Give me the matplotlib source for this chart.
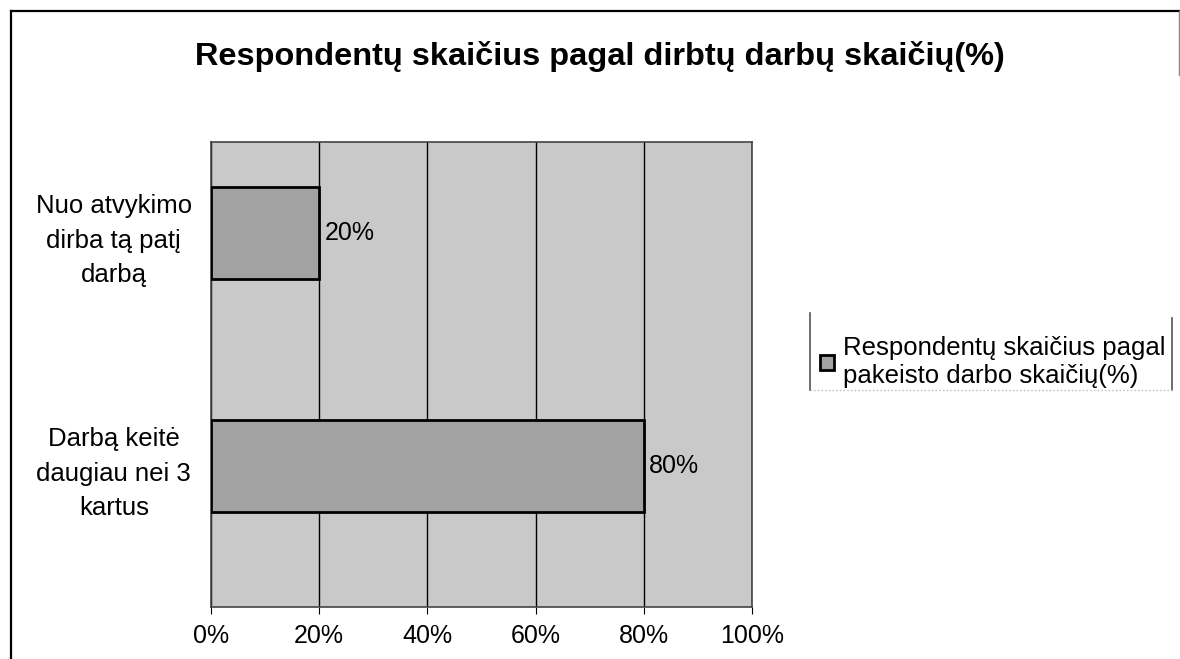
import matplotlib.pyplot as plt
from matplotlib.lines import Line2D

plt.rcParams['font.family'] = ['Liberation Sans', 'DejaVu Sans']

# duomenys
categories = ['Darbą keitė\ndaugiau nei 3\nkartus', 'Nuo atvykimo\ndirba tą patį\ndarbą']
values = [80, 20]
value_labels = ['80%', '20%']
x_ticks = [0, 20, 40, 60, 80, 100]
x_tick_labels = ['0%', '20%', '40%', '60%', '80%', '100%']
series_name = 'Respondentų skaičius pagal\npakeisto darbo skaičių(%)'
title = 'Respondentų skaičius pagal dirbtų darbų skaičių(%)'

W, H = 1180, 659


def fx(px):
    return px / W


def fy(py):
    return 1 - py / H


fig = plt.figure(figsize=(11.8, 6.59), dpi=100)
fig.patch.set_facecolor('white')

# outer chart frame (scanned, bottom is cut off)
fig.lines.append(Line2D([fx(11), fx(11)], [0, fy(11)], transform=fig.transFigure,
                        color='black', linewidth=1.6))
fig.lines.append(Line2D([fx(11), fx(1179)], [fy(11), fy(11)], transform=fig.transFigure,
                        color='black', linewidth=1.6))
fig.lines.append(Line2D([fx(1179), fx(1179)], [fy(11), fy(75)], transform=fig.transFigure,
                        color='#888888', linewidth=1))

ax = fig.add_axes([fx(211), fy(607), 541 / W, 465 / H])
ax.set_facecolor('#c9c9c9')

pos = list(range(len(categories)))
bars = ax.barh(pos, values, height=0.395, color='#a2a2a2', edgecolor='black',
               linewidth=2, label=series_name, zorder=3)

for b, lab in zip(bars, value_labels):
    ax.text(b.get_width() + 1, b.get_y() + b.get_height() / 2, lab,
            va='center', ha='left', fontsize=18, zorder=4)

ax.set_xlim(0, 100)
ax.set_ylim(-0.605, 1.39)
ax.set_xticks(x_ticks)
ax.set_xticklabels(x_tick_labels, fontsize=18)
ax.set_yticks(pos)
ax.set_yticklabels(categories, fontsize=18.5, ha='center', linespacing=1.55)
ax.tick_params(axis='y', length=0, pad=70)
ax.tick_params(axis='x', length=5, pad=7, direction='out')
ax.xaxis.grid(True, color='black', linewidth=1)
ax.set_axisbelow(True)
for s in ax.spines.values():
    s.set_color('#444444')
    s.set_linewidth(1.2)

fig.text(fx(600), fy(57), title, ha='center', va='center',
         fontsize=23.4, fontweight='bold')

# legenda
leg = fig.legend(handles=[bars], labels=[series_name], loc='center left',
                 bbox_to_anchor=(fx(820), fy(362)), fontsize=18.5,
                 frameon=False, handlelength=0.55, handleheight=0.55,
                 handletextpad=0.35, borderpad=0.0, borderaxespad=0.0,
                 labelspacing=0.2)
for t in leg.get_texts():
    t.set_linespacing(1.25)
fig.lines.append(Line2D([fx(810), fx(810)], [fy(313), fy(390)], transform=fig.transFigure,
                        color='#555555', linewidth=1.2))
fig.lines.append(Line2D([fx(1172), fx(1172)], [fy(318), fy(390)], transform=fig.transFigure,
                        color='#555555', linewidth=1.2))
fig.lines.append(Line2D([fx(810), fx(1172)], [fy(390), fy(390)], transform=fig.transFigure,
                        color='#bbbbbb', linewidth=1, linestyle=':'))

fig.savefig('out.png', dpi=100)
